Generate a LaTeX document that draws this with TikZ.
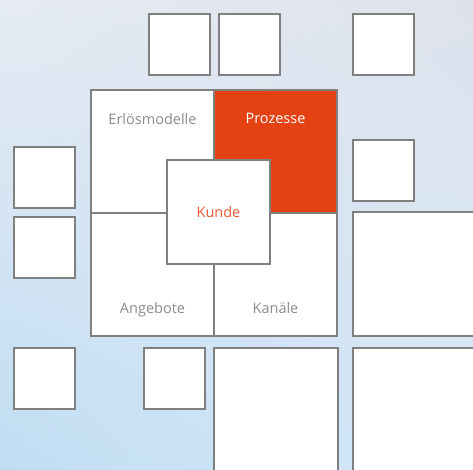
\documentclass[tikz,border=0pt]{standalone}
\usepackage{fontspec}
\setmainfont{Open Sans}
\usetikzlibrary{positioning, shadings}
\definecolor{tilegray}{RGB}{128,128,128}
\definecolor{prozorange}{RGB}{228,66,18}
\definecolor{kundeorange}{RGB}{236,88,52}
\definecolor{labelgray}{RGB}{140,140,140}
\definecolor{skyul}{RGB}{230,235,243}
\definecolor{skyur}{RGB}{222,226,236}
\definecolor{skyll}{RGB}{192,221,243}
\definecolor{skylr}{RGB}{214,233,249}
\tikzset{
    tile/.style={rectangle, draw=tilegray, fill=white, line width=2pt, inner sep=0pt, anchor=north west},
    smalltile/.style={tile, minimum width=61pt, minimum height=61pt},
    quadtile/.style={tile, minimum width=123pt, minimum height=123pt},
    bigtile/.style={tile, minimum width=124pt, minimum height=124pt},
    lbltext/.style={inner sep=0pt, anchor=base, text=labelgray, font=\fontsize{14.5}{16}\selectfont}
}
\begin{document}
\begin{tikzpicture}[x=1pt, y=-1pt]
        % Background
        \clip (0,0) rectangle (473,469);
        \shade[upper left=skyul, upper right=skyur, lower left=skyll, lower right=skylr]
            (0,0) rectangle (473,469);

        % Outer tiles
        \node [smalltile] (t1) at (148, 13) {};
        \node [smalltile] (t2) at (218, 13) {};
        \node [smalltile] (t3) at (352, 13) {};
        \node [smalltile] (l1) at (13, 146) {};
        \node [smalltile] (l2) at (13, 216) {};
        \node [smalltile] (r1) at (352, 139) {};
        \node [bigtile] (r2) at (352, 211) {};
        \node [smalltile] (b1) at (13, 347) {};
        \node [smalltile] (b2) at (143, 347) {};
        \node [bigtile] (b3) at (213, 347) {};
        \node [bigtile] (b4) at (352, 347) {};

        % Canvas
        \node [quadtile] (erl) at (90, 89) {};
        \node [quadtile, fill=prozorange] (proz) at (213, 89) {};
        \node [quadtile] (ang) at (90, 212) {};
        \node [quadtile] (kan) at (213, 212) {};
        \node [tile, anchor=center, minimum width=103pt, minimum height=104pt, text=kundeorange,
               font=\fontsize{14.5}{16}\selectfont] (kunde) at (218.5, 212) {Kunde};

        % Labels
        \node [lbltext] (erltxt) at ([yshift=-35pt]erl.north) {Erlösmodelle};
        \node [lbltext, text=white] (proztxt) at ([yshift=-34pt]proz.north) {Prozesse};
        \node [lbltext] (angtxt) at ([yshift=24pt]ang.south) {Angebote};
        \node [lbltext] (kantxt) at ([yshift=24pt]kan.south) {Kanäle};
    \end{tikzpicture}
\end{document}
